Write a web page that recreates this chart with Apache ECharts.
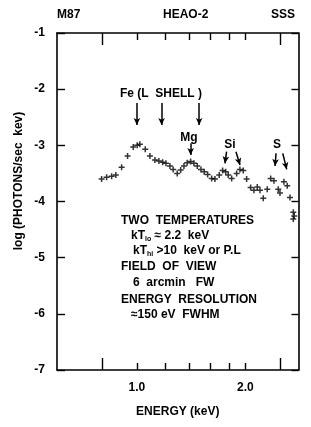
<!DOCTYPE html>
<html><head><meta charset="utf-8">
<script src="https://cdn.jsdelivr.net/npm/echarts@6/dist/echarts.min.js"></script>
<style>html,body{margin:0;padding:0;background:#fff}#c{width:311px;height:427px}</style>
</head><body><div id="c"></div>
<script>
// Energy (keV) and log flux values
const energy = [0.798,0.824,0.851,0.874,0.907,0.942,0.977,1.002,1.019,1.055,1.087,1.122,1.151,1.179,1.204,1.235,1.261,1.294,1.323,1.351,1.379,1.410,1.440,1.471,1.506,1.538,1.572,1.613,1.647,1.693,1.730,1.764,1.793,1.833,1.892,1.932,1.974,2.017,2.069,2.113,2.159,2.197,2.243,2.301,2.352,2.402,2.469,2.496,2.560,2.615,2.661,2.718,2.735,2.718];
const logFlux = [-3.60,-3.57,-3.55,-3.53,-3.39,-3.19,-3.03,-3.00,-2.98,-3.07,-3.19,-3.26,-3.28,-3.30,-3.32,-3.37,-3.43,-3.50,-3.44,-3.37,-3.31,-3.29,-3.32,-3.37,-3.43,-3.47,-3.52,-3.59,-3.60,-3.53,-3.45,-3.47,-3.53,-3.59,-3.50,-3.43,-3.45,-3.60,-3.75,-3.80,-3.74,-3.80,-3.94,-3.78,-3.59,-3.63,-3.78,-3.85,-3.65,-3.72,-3.93,-4.19,-4.26,-4.31];
// line-marker arrows (start energy, start logF, end energy, end logF)
const arrowE0 = [1.000,1.171,1.489,1.410,1.774,1.884,2.434,2.541];
const arrowY0 = [-2.246,-2.246,-2.246,-2.964,-3.113,-3.113,-3.142,-3.142];
const arrowE1 = [1.000,1.171,1.489,1.410,1.756,1.933,2.419,2.606];
const arrowY1 = [-2.638,-2.638,-2.638,-3.172,-3.320,-3.350,-3.368,-3.427];
// axes
const eMin = 0.6, eMax = 2.81;
const minorTickE = [1.0,1.2,1.4,1.6,1.8,2.0];
const majorTickE = [0.8,2.5];
const xLabelE = [1.0,2.0];
const yMin = -7, yMax = -1;

const L = Math.log10;
const F = '"Liberation Sans", Arial, sans-serif';
const pts = energy.map((e,i)=>[L(e), logFlux[i]]);
const arrows = arrowE0.map((e,i)=>[{coord:[L(e),arrowY0[i]]},{coord:[L(arrowE1[i]),arrowY1[i]]}]);

function xa(pos, vals, len, showLine, labels){
  return {
    type:'value', position:pos, min:L(eMin), max:L(eMax),
    axisLine:{show:showLine, onZero:false, lineStyle:{color:'#000', width:1.6}},
    axisTick:{show:true, inside:true, length:len, customValues:vals.map(L), lineStyle:{color:'#000', width:1.4}},
    axisLabel: labels ? {show:true, customValues:labels.map(L), margin:12, color:'#000', fontFamily:F, fontSize:12, fontWeight:'bold',
      formatter:v=>Math.pow(10,v).toFixed(1)} : {show:false},
    splitLine:{show:false}
  };
}
function ya(pos, len, labels){
  return {type:'value', position:pos, min:yMin, max:yMax, interval:1,
    axisLine:{show:true, onZero:false, lineStyle:{color:'#000', width:1.6}},
    axisTick:{inside:true, length:len, lineStyle:{color:'#000', width:1.4}},
    axisLabel: labels ? {margin:12, color:'#000', fontFamily:F, fontSize:12, fontWeight:'bold'} : {show:false},
    splitLine:{show:false}};
}
const chart = echarts.init(document.getElementById('c'));
chart.setOption({
  animation:false,
  grid:{left:57, right:12.5, top:33, bottom:57},
  xAxis:[
    Object.assign(xa('bottom', minorTickE, 7, true, xLabelE), {name:'ENERGY (keV)', nameLocation:'middle', nameGap:36,
      nameTextStyle:{color:'#000', fontFamily:F, fontSize:12, fontWeight:'bold'}}),
    xa('bottom', majorTickE, 12, false, null),
    xa('top', minorTickE, 7, true, null),
    xa('top', majorTickE, 12, false, null)
  ],
  yAxis:[ ya('left', 8, true), ya('right', 7, false) ],
  series:[{
    type:'scatter', xAxisIndex:0, yAxisIndex:0, data:pts,
    symbol:'path://M-1,-0.25H-0.25V-1H0.25V-0.25H1V0.25H0.25V1H-0.25V0.25H-1Z',
    symbolSize:6, itemStyle:{color:'#000'},
    markLine:{silent:true, symbol:['none','arrow'], symbolSize:[5,7], label:{show:false},
      lineStyle:{color:'#000', width:1.5, type:'solid'}, data:arrows}
  }],
  graphic:[
    {type:'text', left:57, top:9, style:{text:'M87', font:'bold 12px '+F, fill:'#000'}},
    {type:'text', left:163, top:9, style:{text:'HEAO-2', font:'bold 12px '+F, fill:'#000'}},
    {type:'text', left:271, top:9, style:{text:'SSS', font:'bold 12px '+F, fill:'#000'}},
    {type:'text', x:19, y:181, rotation:Math.PI/2, style:{text:'log (PHOTONS/sec  kev)', font:'bold 12px '+F, fill:'#000', align:'center', verticalAlign:'middle'}},
    {type:'text', x:161, y:94, style:{text:'Fe (L  SHELL )', font:'bold 12px '+F, fill:'#000', align:'center', verticalAlign:'middle'}},
    {type:'text', x:189, y:137.5, style:{text:'Mg', font:'bold 12px '+F, fill:'#000', align:'center', verticalAlign:'middle'}},
    {type:'text', x:230, y:144.5, style:{text:'Si', font:'bold 12px '+F, fill:'#000', align:'center', verticalAlign:'middle'}},
    {type:'text', x:277, y:144.5, style:{text:'S', font:'bold 12px '+F, fill:'#000', align:'center', verticalAlign:'middle'}},
    {type:'text', left:121, top:215, style:{text:'TWO  TEMPERATURES', font:'bold 12px '+F, fill:'#000'}},
    {type:'text', left:131, top:230, style:{text:'{a|kT}{s|lo}{a| ≈ 2.2  keV}', fill:'#000',
      rich:{a:{font:'bold 12px '+F, fill:'#000'}, s:{font:'bold 7px '+F, fill:'#000', verticalAlign:'bottom', padding:[6,0,0,0]}}}},
    {type:'text', left:133, top:245, style:{text:'{a|kT}{s|hi}{a| >10  keV or P.L}', fill:'#000',
      rich:{a:{font:'bold 12px '+F, fill:'#000'}, s:{font:'bold 7px '+F, fill:'#000', verticalAlign:'bottom', padding:[6,0,0,0]}}}},
    {type:'text', left:121, top:261, style:{text:'FIELD  OF  VIEW', font:'bold 12px '+F, fill:'#000'}},
    {type:'text', left:133, top:277, style:{text:'6  arcmin   FW', font:'bold 12px '+F, fill:'#000'}},
    {type:'text', left:121, top:294, style:{text:'ENERGY  RESOLUTION', font:'bold 12px '+F, fill:'#000'}},
    {type:'text', left:131, top:309, style:{text:'≈150 eV  FWHM', font:'bold 12px '+F, fill:'#000'}}
  ]
});
</script></body></html>
